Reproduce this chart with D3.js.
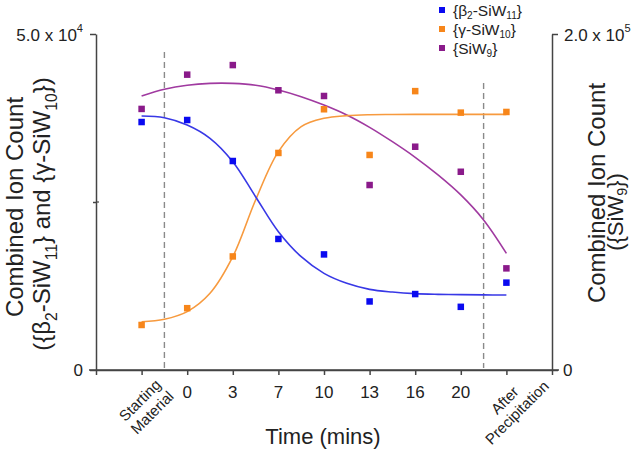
<!DOCTYPE html>
<html><head><meta charset="utf-8">
<script src="https://cdn.jsdelivr.net/npm/d3@7"></script>
<style>body{margin:0;background:#fff;} svg{display:block;} text{font-family:"Liberation Sans",Arial,sans-serif;fill:#222;}</style>
</head><body>
<svg id="c" width="632" height="453"></svg>
<script>
// ---- data ----
const categories = ["Starting Material","0","3","7","10","13","16","20","After Precipitation"];
const beta2SiW11 = [36900, 37200, 31100, 19500, 17200, 10200, 11300, 9400, 13000];
const gammaSiW10 = [6700, 9200, 16900, 32300, 38800, 32000, 41500, 38300, 38400];
const siW9 = [155400, 175800, 181500, 166500, 163100, 110100, 132900, 118000, 60500];
// fitted curves sampled at category positions (index units)
const fitPos = [0,0.5,1,1.5,2,2.5,3,3.5,4,4.5,5,5.5,6,6.5,7,7.5,8];
const beta2Fit = [37800,37550,36460,34480,31000,25790,20580,16860,14380,12900,12000,11600,11360,11260,11210,11180,11160];
const gammaFit = [7190,7540,8680,11410,16860,25300,32490,36210,37450,37850,37990,38020,38040,38040,38040,38040,38040];
const siW9Fit = [163100,167100,169500,170600,170600,169500,166700,162700,157700,151800,144450,135900,126600,116100,104200,89300,69400];
const dividers = [0.5, 7.5];
const leftTicks = [0, 25000, 50000];
const rightTicks = [0, 200000];

const svg = d3.select("#c");
const x = d3.scaleLinear().domain([-1, 9]).range([96, 552]);
const yL = d3.scaleLinear().domain([0, 50000]).range([370, 34]);
const yR = d3.scaleLinear().domain([0, 200000]).range([370, 34]);

const cBlue = "#0a0af0", cOrange = "#f7861a", cPurple = "#8a1a8a";
const lBlue = "#3838e6", lOrange = "#f79a3e", lPurple = "#a03aa0";
const axisColor = "#444";

function rich(sel, parts, subShift) {
  const sub = subShift || 0.3;
  let shift = 0;
  parts.forEach(([t, m]) => {
    const ts = sel.append("tspan").text(t);
    let target = m === 1 ? sub : m === 2 ? -0.55 : 0;
    const dyPx = target - shift;
    if (m) ts.attr("font-size", "65%");
    if (dyPx !== 0) ts.attr("dy", (m ? dyPx / 0.65 : dyPx) + "em");
    shift = target;
  });
}

// dashed dividers
const divTop = [52, 83];
dividers.forEach((d, i) => {
  svg.append("line").attr("x1", x(d)).attr("x2", x(d))
    .attr("y1", divTop[i]).attr("y2", 368)
    .attr("stroke", "#8a8a8a").attr("stroke-width", 1.4).attr("stroke-dasharray", "6,4");
});

// axes
const gL = svg.append("g").attr("transform", `translate(${x(-1)},0)`)
  .call(d3.axisLeft(yL).tickValues(leftTicks).tickSize(6).tickSizeOuter(0).tickFormat(() => ""));
const gR = svg.append("g").attr("transform", `translate(${x(9)},0)`)
  .call(d3.axisRight(yR).tickValues(rightTicks).tickSize(6).tickSizeOuter(0).tickFormat(() => ""));
const gX = svg.append("g").attr("transform", `translate(0,${yL(0)})`)
  .call(d3.axisBottom(x).tickValues(d3.range(-1, 10)).tickSize(5).tickSizeOuter(0).tickFormat(() => ""));
svg.append("line").attr("x1", x(-1) - 7).attr("x2", x(9) + 7).attr("y1", yL(0)).attr("y2", yL(0))
  .attr("stroke", axisColor).attr("stroke-width", 1.5);
svg.append("line").attr("x1", x(-1)).attr("x2", x(-1) + 3).attr("y1", yL(25000)).attr("y2", yL(25000))
  .attr("stroke", axisColor).attr("stroke-width", 1.2);
[gL, gR, gX].forEach(g => {
  g.selectAll("path,line").attr("stroke", axisColor).attr("stroke-width", 1.5);
});
gL.selectAll(".tick").filter(d => d === 25000).select("line").attr("x2", -3);

// y tick labels
const tl = svg.append("text").attr("x", 83).attr("y", yL(50000) + 7).attr("text-anchor", "end").attr("font-size", 17);
rich(tl, [["5.0 x 10", 0], ["4", 2]]);
svg.append("text").attr("x", 83).attr("y", yL(0) + 6).attr("text-anchor", "end").attr("font-size", 17).text("0");
const tr = svg.append("text").attr("x", 564).attr("y", yR(200000) + 7).attr("text-anchor", "start").attr("font-size", 17);
rich(tr, [["2.0 x 10", 0], ["5", 2]]);
svg.append("text").attr("x", 563).attr("y", yR(0) + 6).attr("text-anchor", "start").attr("font-size", 17).text("0");

// x labels
categories.forEach((c, i) => {
  if (i === 0 || i === categories.length - 1) {
    const words = c.split(" ");
    const t = svg.append("text").attr("transform", `translate(${x(i) + 2},404) rotate(-45)`)
      .attr("text-anchor", "middle").attr("font-size", 15);
    t.append("tspan").attr("x", 0).attr("dy", 0).text(words[0]);
    t.append("tspan").attr("x", 0).attr("dy", "1.15em").text(words[1]);
  } else {
    svg.append("text").attr("x", x(i)).attr("y", 398).attr("text-anchor", "middle").attr("font-size", 17).text(c);
  }
});
svg.append("text").attr("x", 323).attr("y", 444).attr("text-anchor", "middle").attr("font-size", 22).text("Time (mins)");

// y titles
svg.append("text").attr("transform", "translate(23,207) rotate(-90)").attr("text-anchor", "middle").attr("font-size", 24).text("Combined Ion Count");
const lt2 = svg.append("text").attr("transform", "translate(50,214) rotate(-90)").attr("text-anchor", "middle").attr("font-size", 24);
rich(lt2, [["({β", 0], ["2", 1], ["-SiW", 0], ["11", 1], ["} and {γ-SiW", 0], ["10", 1], ["})", 0]]);
svg.append("text").attr("transform", "translate(605,193) rotate(-90)").attr("text-anchor", "middle").attr("font-size", 24).text("Combined Ion Count");
const rt2 = svg.append("text").attr("transform", "translate(623,212) rotate(-90)").attr("text-anchor", "middle").attr("font-size", 22);
rich(rt2, [["({SiW", 0], ["9", 1], ["})", 0]], 0.2);

// fitted curves
const mk = (scale, vals) => d3.line().x((d, i) => x(fitPos[i])).y(d => scale(d)).curve(d3.curveCatmullRom.alpha(0.5))(vals);
svg.append("path").attr("d", mk(yR, siW9Fit)).attr("fill", "none").attr("stroke", lPurple).attr("stroke-width", 1.6);
svg.append("path").attr("d", mk(yL, gammaFit)).attr("fill", "none").attr("stroke", lOrange).attr("stroke-width", 1.6);
svg.append("path").attr("d", mk(yL, beta2Fit)).attr("fill", "none").attr("stroke", lBlue).attr("stroke-width", 1.6);

// points
const sz = 6.5;
function pts(vals, scale, color) {
  svg.append("g").selectAll("rect").data(vals).join("rect")
    .attr("x", (d, i) => x(i) - sz / 2).attr("y", d => scale(d) - sz / 2)
    .attr("width", sz).attr("height", sz).attr("fill", color);
}
pts(siW9, yR, cPurple);
pts(gammaSiW10, yL, cOrange);
pts(beta2SiW11, yL, cBlue);

// legend
const legend = [
  {parts: [["{β", 0], ["2", 1], ["-SiW", 0], ["11", 1], ["}", 0]], color: cBlue},
  {parts: [["{γ-SiW", 0], ["10", 1], ["}", 0]], color: cOrange},
  {parts: [["{SiW", 0], ["9", 1], ["}", 0]], color: cPurple}
];
const legY = [10, 29, 48];
legend.forEach((l, i) => {
  svg.append("rect").attr("x", 439).attr("y", legY[i] - 3).attr("width", 6).attr("height", 6).attr("fill", l.color);
  const t = svg.append("text").attr("x", 453).attr("y", legY[i] + 5.5).attr("font-size", 15.5);
  rich(t, l.parts, 0.2);
});
</script>
</body></html>
